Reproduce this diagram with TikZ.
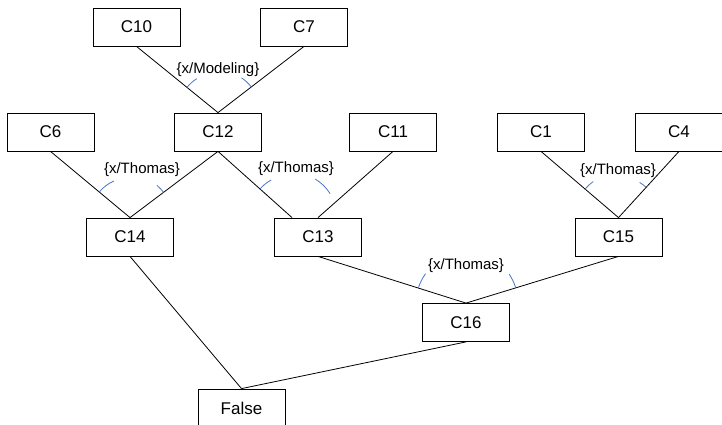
\documentclass[tikz,border=0pt]{standalone}
\usepackage{fontspec}
\setmainfont{Liberation Sans}
\definecolor{markblue}{RGB}{72,118,200}
\begin{document}
\begin{tikzpicture}[x=1pt,y=-1pt,line width=0.8pt,
  box/.style={draw=black,minimum width=87pt,minimum height=38pt,inner sep=0pt,font=\fontsize{17}{19}\selectfont},
  lbl/.style={inner sep=0pt,font=\fontsize{15}{17}\selectfont},
  mk/.style={markblue,line width=0.8pt}]
\useasboundingbox (0,0) rectangle (722,425);
\node[box] (c10) at (136.5,27) {C10};
\node[box] (c7) at (304,27) {C7};
\node[box] (c6) at (50.5,132) {C6};
\node[box] (c12) at (218,132) {C12};
\node[box] (c11) at (393,132) {C11};
\node[box] (c1) at (541,132) {C1};
\node[box] (c4) at (679,132) {C4};
\node[box] (c14) at (130,237) {C14};
\node[box] (c13) at (318,237) {C13};
\node[box] (c15) at (618.5,237) {C15};
\node[box] (c16) at (466,322.5) {C16};
\node[box] (false) at (241.5,408) {False};
\draw (c10.south) -- (c12.north);
\draw (c7.south) -- (c12.north);
\draw (c6.south) -- (c14.north);
\draw (c12.south) -- (c14.north);
\draw (c12.south) -- ([xshift=-26pt]c13.north);
\draw (c11.south) -- (c13.north);
\draw (c1.south) -- (c15.north);
\draw (c4.south) -- (c15.north);
\draw (c13.south) -- (c16.north);
\draw (c15.south) -- (c16.north);
\draw (c14.south) -- (false.north);
\draw (c16.south) -- (false.north);

\node[lbl] (l12) at (218,70) {\{x/Modeling\}};
\node[lbl] (l14) at (142,170) {\{x/Thomas\}};
\node[lbl] (l13) at (296,169) {\{x/Thomas\}};
\node[lbl] (l15) at (618,171) {\{x/Thomas\}};
\node[lbl] (l16) at (466,266) {\{x/Thomas\}};

% angle marks
\draw[mk] (c12.north) ++(219:40) arc[start angle=219,end angle=238,radius=40];
\draw[mk] (c12.north) ++(322:42) arc[start angle=322,end angle=304,radius=42];
\draw[mk] (c14.north) ++(220:40) arc[start angle=220,end angle=246,radius=40];
\draw[mk] (c14.north) ++(323:42) arc[start angle=323,end angle=310,radius=42];
\draw[mk] ([xshift=-26pt]c13.north) ++(222:43) arc[start angle=222,end angle=241,radius=43];
\draw[mk] ([xshift=-26pt]c13.north) ++(328:45) arc[start angle=328,end angle=301,radius=45];
\draw[mk] (c15.north) ++(220:44) arc[start angle=220,end angle=235,radius=44];
\draw[mk] (c15.north) ++(312:41) arc[start angle=312,end angle=301,radius=41];
\draw[mk] (c16.north) ++(198:50) arc[start angle=198,end angle=216,radius=50];
\draw[mk] (c16.north) ++(343:52) arc[start angle=343,end angle=326,radius=52];
\end{tikzpicture}
\end{document}
